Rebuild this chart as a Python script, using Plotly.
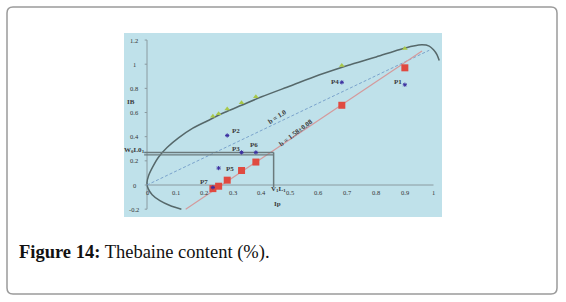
import plotly.graph_objects as go

# ---------------- data ----------------
grp_x = [0.23, 0.25, 0.28, 0.33, 0.38, 0.68, 0.90]
green_y = [0.57, 0.59, 0.63, 0.68, 0.73, 0.99, 1.13]
red_y = [-0.03, -0.01, 0.04, 0.12, 0.19, 0.66, 0.97]

p_names = ["P1", "P2", "P3", "P4", "P5", "P6", "P7"]
p_x = [0.90, 0.28, 0.33, 0.68, 0.25, 0.38, 0.23]
p_y = [0.83, 0.41, 0.27, 0.85, 0.14, 0.27, -0.02]
p_lab_x = [0.875, 0.31, 0.31, 0.655, 0.29, 0.375, 0.20]
p_lab_y = [0.855, 0.45, 0.295, 0.855, 0.13, 0.33, 0.025]

ell_x = [0.12, 0.08, 0.045, 0.018, 0.004, 0.0, 0.006, 0.02, 0.04, 0.07, 0.11, 0.16, 0.21, 0.27, 0.33,
         0.40, 0.50, 0.60, 0.70, 0.80, 0.88, 0.93, 0.96, 0.985, 1.0, 1.012, 1.02]
ell_y = [-0.20, -0.17, -0.13, -0.08, -0.03, 0.02, 0.08, 0.15, 0.23, 0.31, 0.39, 0.47, 0.53, 0.60, 0.66,
         0.73, 0.82, 0.91, 0.99, 1.06, 1.12, 1.15, 1.16, 1.15, 1.12, 1.08, 1.03]

dash_x = [0.0, 0.985]
dash_y = [0.0, 1.115]
red_line_x = [0.135, 0.96]
red_line_y = [-0.20, 1.11]

box_top = 0.27
box_bot = 0.25
box_x = [-0.01, 0.442]
box_vx = [0.442, 0.442]
box_vy = [0.27, -0.02]

xt_vals = [0, 0.1, 0.2, 0.3, 0.4, 0.5, 0.6, 0.7, 0.8, 0.9, 1]
xt_text = ["0", "0.1", "0.2", "0.3", "0.4", "0.5", "0.6", "0.7", "0.8", "0.9", "1"]
yt_vals = [-0.2, 0, 0.2, 0.4, 0.6, 0.8, 1, 1.2]
yt_text = ["-0.2", "0", "0.2", "0.4", "0.6", "0.8", "1", "1.2"]

# ---------------- figure ----------------
W, H = 566, 302
L, R, T, B = 124, 442, 33, 217
x0px = 147.0
xunit = 286.5
y0px = 185.0
yunit = 120.8
xr = [(L - x0px) / xunit, (R - x0px) / xunit]
yr = [-(B - y0px) / yunit, (y0px - T) / yunit]

fig = go.Figure()

# axis lines
fig.add_trace(go.Scatter(x=[0, 0], y=[-0.2, 1.2], mode="lines",
                         line=dict(color="#8a9aa0", width=1), hoverinfo="skip"))
fig.add_trace(go.Scatter(x=[0, 1], y=[0, 0], mode="lines",
                         line=dict(color="#8a9aa0", width=1), hoverinfo="skip"))

# ellipse
fig.add_trace(go.Scatter(x=ell_x, y=ell_y, mode="lines",
                         line=dict(color="#56686a", width=1.5, shape="spline", smoothing=0.8),
                         hoverinfo="skip"))
# dashed line
fig.add_trace(go.Scatter(x=dash_x, y=dash_y, mode="lines",
                         line=dict(color="#7aa3cc", width=1, dash="3px,2px"), hoverinfo="skip"))
# red regression line
fig.add_trace(go.Scatter(x=red_line_x, y=red_line_y, mode="lines",
                         line=dict(color="#d49a9c", width=1.2), hoverinfo="skip"))
# box
fig.add_trace(go.Scatter(x=box_x, y=[box_top, box_top], mode="lines",
                         line=dict(color="#6b7a7c", width=1.5), hoverinfo="skip"))
fig.add_trace(go.Scatter(x=box_x, y=[box_bot, box_bot], mode="lines",
                         line=dict(color="#6b7a7c", width=1.2), hoverinfo="skip"))
fig.add_trace(go.Scatter(x=box_vx, y=box_vy, mode="lines",
                         line=dict(color="#6b7a7c", width=1.5), hoverinfo="skip"))

# markers
fig.add_trace(go.Scatter(x=grp_x, y=green_y, mode="markers",
                         marker=dict(symbol="triangle-up", size=5, color="#a8c84a"), hoverinfo="skip"))
fig.add_trace(go.Scatter(x=grp_x, y=red_y, mode="markers",
                         marker=dict(symbol="square", size=7, color="#e04a40"), hoverinfo="skip"))
fig.add_trace(go.Scatter(x=p_x, y=p_y, mode="markers",
                         marker=dict(symbol="asterisk-open", size=3.5, color="#3b2ea0",
                                     line=dict(width=1, color="#3b2ea0")), hoverinfo="skip"))

ann = []
def a(x, y, t, size=7, angle=0, bold=True, color="#3a3a3a"):
    ann.append(dict(x=x, y=y, xref="x", yref="y", text=("<b>%s</b>" % t) if bold else t,
                    showarrow=False, textangle=angle,
                    font=dict(family="Liberation Serif", size=size, color=color)))

for n, lx, ly in zip(p_names, p_lab_x, p_lab_y):
    a(lx, ly, n, 7)
for v, t in zip(xt_vals, xt_text):
    a(v, -0.065, t, 6.5, bold=False, color="#333333")
for v, t in zip(yt_vals, yt_text):
    a(-0.045, v, t, 6.5, bold=False, color="#333333")

# y tick marks
for v in yt_vals:
    fig.add_shape(type="line", x0=-0.008, x1=0, y0=v, y1=v, line=dict(color="#8a9aa0", width=1))

a(-0.045, 0.29, "W<sub>0</sub>L0<sub>1</sub>", 7)
a(0.46, -0.035, "V<sub>1</sub>L<sub>1</sub>", 7)
a(0.455, -0.155, "Ip", 7)
a(-0.055, 0.685, "IB", 7)
a(0.455, 0.565, "b = 1.0", 7, -33)
a(0.52, 0.43, "b = 1.58±0.08", 7, -37)

pw = R - L
ph = B - T
def px(x):
    return (x - L) / pw
def py(y):
    return (B - y) / ph

# caption
ann.append(dict(x=px(17), y=py(252), xref="paper", yref="paper", xanchor="left", yanchor="middle",
                showarrow=False, text="<b>Figure 14:</b> Thebaine content (%).",
                font=dict(family="Liberation Serif", size=18.5, color="#111111")))

fig.update_layout(annotations=ann)

# outer rounded border
r = 6
x1p, y1p, x2p, y2p = 7, 7, 557, 294
path = ("M {a},{b} L {c},{b} Q {d},{b} {d},{e} L {d},{f} Q {d},{g} {c},{g} "
        "L {a},{g} Q {h},{g} {h},{f} L {h},{e} Q {h},{b} {a},{b} Z").format(
    a=px(x1p + r), b=py(y1p), c=px(x2p - r), d=px(x2p), e=py(y1p + r),
    f=py(y2p - r), g=py(y2p), h=px(x1p))
fig.add_shape(type="path", path=path, xref="paper", yref="paper",
              line=dict(color="#9a9a9a", width=1.5), fillcolor="rgba(0,0,0,0)", layer="below")

fig.update_layout(
    width=W, height=H,
    margin=dict(l=L, r=W - R, t=T, b=H - B),
    paper_bgcolor="white", plot_bgcolor="#bfe1ea",
    showlegend=False,
    xaxis=dict(range=xr, visible=False, fixedrange=True),
    yaxis=dict(range=yr, visible=False, fixedrange=True),
)

fig.write_html("out.html", config={"displayModeBar": False},
               post_script="document.body.style.margin='0';document.body.style.overflow='hidden';")
